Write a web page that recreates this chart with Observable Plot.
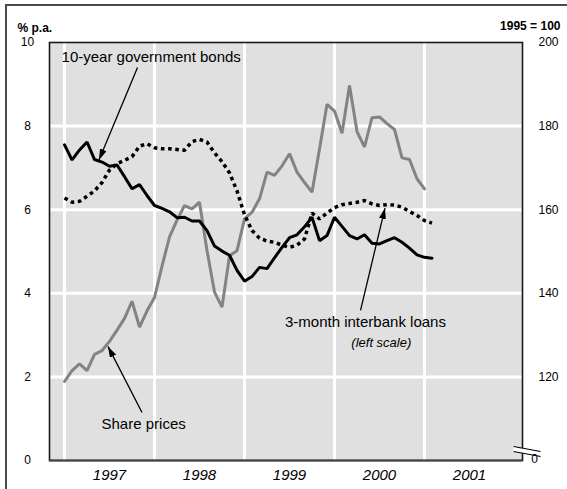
<!DOCTYPE html>
<html><head><meta charset="utf-8">
<script src="https://cdn.jsdelivr.net/npm/d3@7"></script>
<script src="https://cdn.jsdelivr.net/npm/@observablehq/plot@0.6"></script>
<style>
body{margin:0;background:#fff;}
#wrap{position:relative;width:567px;height:489px;overflow:hidden;background:#fff;}
#border{position:absolute;left:5px;top:4px;width:700px;height:700px;border-top:2px solid #4a4a4a;border-left:2px solid #4a4a4a;}
#wrap svg{position:absolute;left:0;top:0;}
</style></head><body><div id="wrap"><div id="border"></div></div>
<script>
// Monthly observations, January 1997 onward
const startYear = 1997;
const bonds10y = [7.55,7.19,7.43,7.62,7.20,7.14,7.04,7.07,6.79,6.50,6.60,6.34,
  6.10,6.03,5.95,5.81,5.82,5.73,5.73,5.50,5.13,5.01,4.91,4.55,
  4.29,4.40,4.62,4.59,4.85,5.10,5.33,5.40,5.59,5.82,5.26,5.38,
  5.82,5.60,5.38,5.30,5.40,5.20,5.18,5.26,5.33,5.22,5.08,4.92,
  4.86,4.84];
const interbank3m = [6.28,6.18,6.20,6.32,6.45,6.65,6.95,7.10,7.18,7.27,7.52,7.58,
  7.48,7.46,7.46,7.44,7.42,7.63,7.68,7.62,7.36,7.15,6.88,6.45,
  5.88,5.50,5.32,5.25,5.22,5.15,5.10,5.15,5.30,5.92,5.78,5.92,
  6.05,6.12,6.15,6.18,6.22,6.14,6.10,6.12,6.11,6.06,5.96,5.86,
  5.74,5.68];
const sharePrices = [118.9,121.5,123.1,121.5,125.4,126.3,128.5,131.2,134.0,138.1,131.9,135.8,
  139.0,146.5,153.5,157.5,161.0,160.2,161.8,150.2,140.3,136.7,149.0,150.2,
  157.8,159.4,162.6,169.0,168.2,170.5,173.4,169.0,166.5,164.2,174.5,185.2,
  183.6,178.3,189.7,178.7,175.0,182.0,182.2,180.6,179.2,172.4,172.0,167.4,
  165.0];
const leftTicks = [0,2,4,6,8,10];
const rightTicks = [120,140,160,180,200];
const yearLabels = [1997,1998,1999,2000,2001];

// annotation anchors (data coordinates)
const bondsLabel = [{text:"10-year government bonds", x:1996.967, y:9.64}];
const sharesLabel = [{text:"Share prices", x:1997.411, y:0.87}];
const interbankLabel = [{text:"3-month interbank loans", x:2000.344, y:3.30}];
const scaleNote = [{text:"(left scale)", x:2000.52, y:2.82}];
const pointers = [
  {x1:1997.811, y1:9.40, x2:1997.383, y2:7.19},
  {x1:1997.861, y1:1.15, x2:1997.483, y2:2.73},
  {x1:2000.289, y1:3.59, x2:2000.561, y2:6.04}
];

const toLeft = r => 2 + (r - 120) / 10;
const monthX = (d, i) => startYear + i / 12;
const font = "'Liberation Sans', Arial, Helvetica, sans-serif";

function headMarker(color) {
  const ns = "http://www.w3.org/2000/svg";
  const m = document.createElementNS(ns, "marker");
  m.setAttribute("viewBox", "-11 -3.5 11 7");
  m.setAttribute("markerWidth", "11");
  m.setAttribute("markerHeight", "7");
  m.setAttribute("markerUnits", "userSpaceOnUse");
  m.setAttribute("refX", "0");
  m.setAttribute("refY", "0");
  m.setAttribute("orient", "auto");
  const p = document.createElementNS(ns, "path");
  p.setAttribute("d", "M-11,-3.5L0,0L-11,3.5Z");
  p.setAttribute("fill", color);
  p.setAttribute("stroke", "none");
  m.appendChild(p);
  return m;
}

function build(customMarker) {
  const pointerMark = customMarker
    ? Plot.link(pointers, {x1:"x1", y1:"y1", x2:"x2", y2:"y2", stroke:"#000", strokeWidth:1.3, markerEnd: headMarker})
    : Plot.arrow(pointers, {x1:"x1", y1:"y1", x2:"x2", y2:"y2", stroke:"#000", strokeWidth:1.6, headLength:10, headAngle:40});
  return Plot.plot({
    width: 567, height: 489,
    marginLeft: 49, marginRight: 45, marginTop: 42, marginBottom: 29,
    style: {fontFamily: font, fontSize: "12px", background: "transparent", color: "#000"},
    x: {domain: [1996.833, 2002.089], axis: null},
    y: {domain: [0, 10], axis: null},
    marks: [
      Plot.frame({fill: "#e0e0e0", stroke: null}),
      Plot.ruleY([2,4,6,8], {stroke: "#fff", strokeWidth: 3}),
      Plot.ruleX(yearLabels, {stroke: "#fff", strokeWidth: 3}),
      Plot.frame({stroke: "#1a1a1a", strokeWidth: 1.6}),
      Plot.ruleY([0], {stroke: "#444", strokeWidth: 2.2}),
      // axis break on the right
      Plot.link([{a:2001.99, b:0.275, c:2002.29, d:0.156}], {x1:"a", y1:"b", x2:"c", y2:"d", stroke:"#fff", strokeWidth:5}),
      Plot.link([{a:2001.99, b:0.335, c:2002.29, d:0.215}, {a:2001.99, b:0.215, c:2002.29, d:0.096}], {x1:"a", y1:"b", x2:"c", y2:"d", stroke:"#000", strokeWidth:1.2}),
      // series
      Plot.line(sharePrices, {x: monthX, y: d => toLeft(d), stroke: "#838383", strokeWidth: 3, strokeLinejoin: "miter"}),
      Plot.line(interbank3m, {x: monthX, y: d => d, stroke: "#000", strokeWidth: 3.5, strokeDasharray: "3.6,3.6", strokeLinecap: "butt", strokeLinejoin: "miter"}),
      Plot.line(bonds10y, {x: monthX, y: d => d, stroke: "#000", strokeWidth: 3, strokeLinejoin: "miter"}),
      // annotations
      pointerMark,
      Plot.text(bondsLabel, {x:"x", y:"y", text:"text", textAnchor:"start", fontSize:15, fill:"#000"}),
      Plot.text(sharesLabel, {x:"x", y:"y", text:"text", textAnchor:"start", fontSize:15, fill:"#000"}),
      Plot.text(interbankLabel, {x:"x", y:"y", text:"text", textAnchor:"middle", fontSize:15, fill:"#000"}),
      Plot.text(scaleNote, {x:"x", y:"y", text:"text", textAnchor:"middle", fontSize:13, fontStyle:"italic", fill:"#000"}),
      // left scale
      Plot.text(leftTicks, {y: d => d, text: d => String(d), frameAnchor: "left", dx: -22, textAnchor: "middle", fontSize: 12}),
      // right scale
      Plot.text(rightTicks, {y: d => toLeft(d), text: d => String(d), frameAnchor: "right", dx: 26, textAnchor: "middle", fontSize: 12}),
      Plot.text(["0"], {frameAnchor: "bottom-right", dx: 12, dy: 2, textAnchor: "middle", fontSize: 12}),
      // years
      Plot.text(yearLabels, {x: d => d + 0.5, text: d => String(d), frameAnchor: "bottom", dy: 19, fontStyle: "italic", fontSize: 15}),
      // unit labels
      Plot.text(["% p.a."], {frameAnchor: "top-left", dx: -32, dy: -19, textAnchor: "start", fontWeight: "bold", fontSize: 12}),
      Plot.text(["1995 = 100"], {frameAnchor: "top-right", dx: 38, dy: -21, textAnchor: "end", fontWeight: "bold", fontSize: 12})
    ]
  });
}

let chart;
try { chart = build(true); } catch (e) { chart = build(false); }
document.getElementById("wrap").appendChild(chart);
</script>
</body></html>
